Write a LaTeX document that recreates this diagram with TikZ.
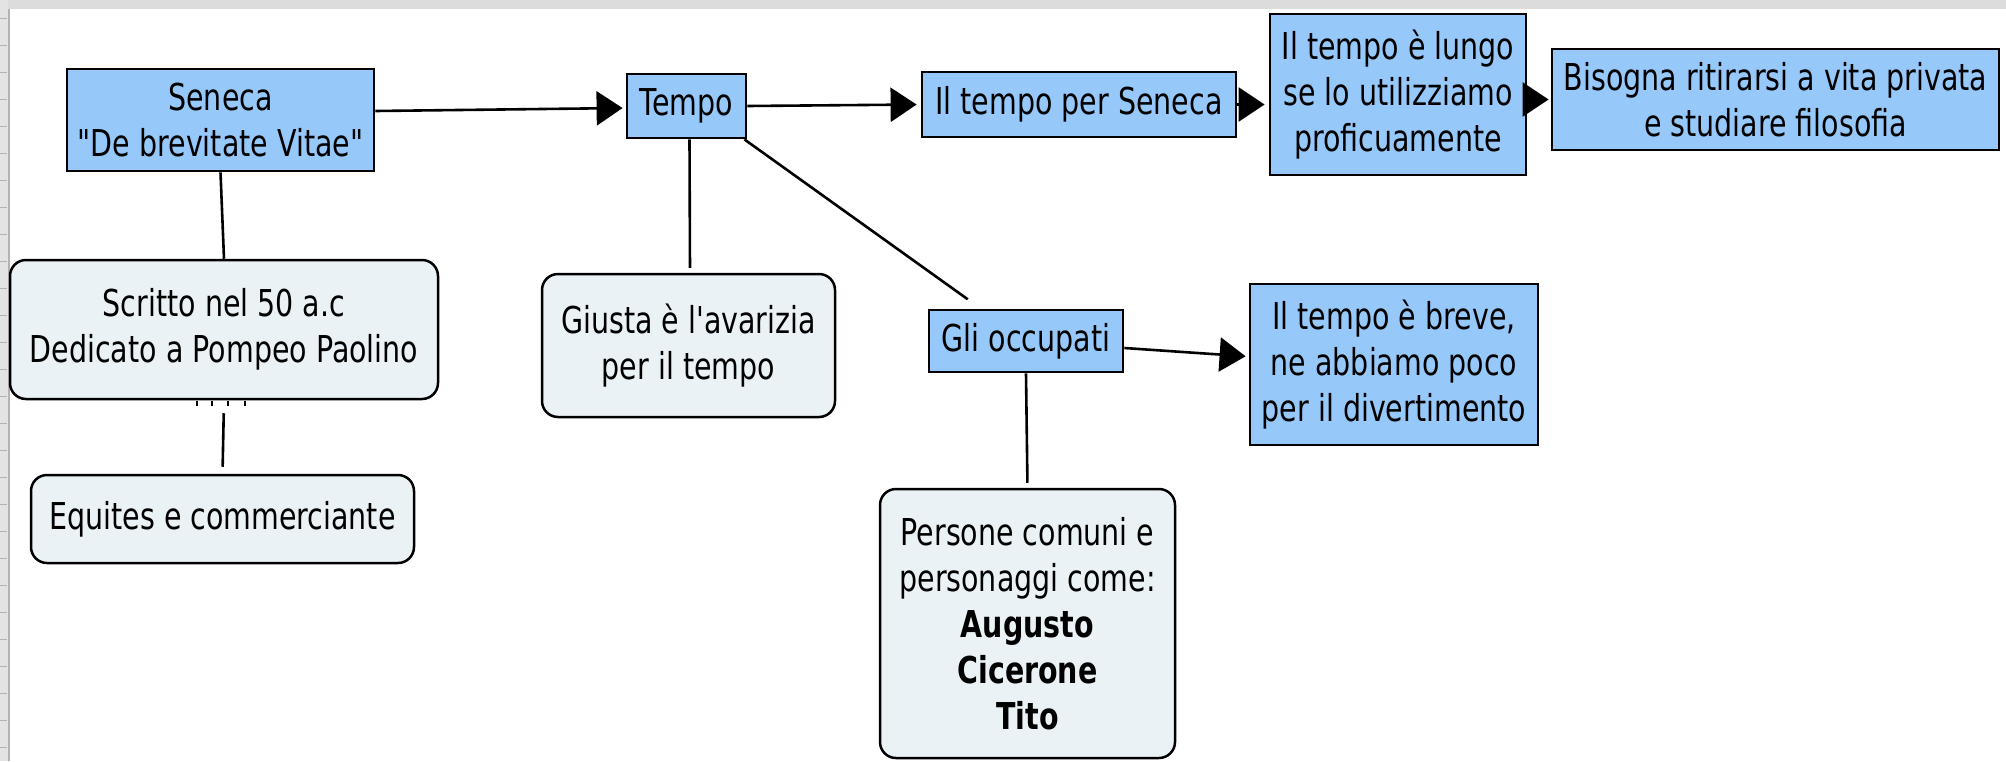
\documentclass[tikz,border=0pt]{standalone}
\usepackage{fontspec}
\setmainfont{DejaVu Sans}[FakeStretch=0.77, Ligatures=TeXOff]
\usetikzlibrary{arrows.meta}
\definecolor{boxblue}{RGB}{150,200,250}
\definecolor{boxgray}{RGB}{235,242,245}
\definecolor{barg}{RGB}{220,220,220}
\begin{document}
\begin{tikzpicture}[x=1pt,y=-1pt,
  every node/.style={font=\fontsize{37}{46}\selectfont, align=center, inner sep=0pt, text=black},
  concept/.style={draw=black, line width=2.8pt, fill=boxblue, rectangle},
  note/.style={draw=black, line width=2.5pt, fill=boxgray, rounded corners=16pt},
  link/.style={line width=2.6pt, draw=black},
  arr/.style={link, -{Triangle[length=26pt,width=34pt]}}]
\useasboundingbox (0,0) rectangle (2006,761);
\fill[white] (0,0) rectangle (2006,761);
\fill[barg] (0,0) rectangle (2006,9);
\fill[barg!80] (0,0) rectangle (8,761);
\draw[gray!60, line width=1.5pt] (9,9) -- (9,761);
\foreach \y in {18,45,...,761} \draw[gray!60,line width=1pt] (0,\y) -- (7,\y);

\node[concept, minimum width=307pt, minimum height=102pt] (seneca) at (220.5,120) {Seneca\\"De brevitate Vitae"};
\node[concept, minimum width=119pt, minimum height=64pt] (tempo) at (686.5,106) {Tempo};
\node[concept, minimum width=314pt, minimum height=65pt] (ptsen) at (1079,104.5) {Il tempo per Seneca};
\node[concept, minimum width=256pt, minimum height=161pt] (lungo) at (1398,94.5) {Il tempo è lungo\\se lo utilizziamo\\proficuamente};
\node[concept, minimum width=447pt, minimum height=101pt] (bisogna) at (1775.5,99.5) {Bisogna ritirarsi a vita privata\\e studiare filosofia};
\node[note, minimum width=428pt, minimum height=139pt] (scritto) at (224,329.5) {Scritto nel 50 a.c\\Dedicato a Pompeo Paolino};
\node[note, minimum width=383pt, minimum height=88pt] (equites) at (222.5,519) {Equites e commerciante};
\node[note, minimum width=293pt, minimum height=143pt] (giusta) at (688.5,345.5) {Giusta è l'avarizia\\per il tempo};
\node[concept, minimum width=194pt, minimum height=62pt] (gli) at (1026,341) {Gli occupati};
\node[concept, minimum width=288pt, minimum height=161pt] (breve) at (1394,364.5) {Il tempo è breve,\\ne abbiamo poco\\per il divertimento};
\node[note, minimum width=295pt, minimum height=269pt] (persone) at (1027.5,623.5) {Persone comuni e\\personaggi come:\\\textbf{Augusto}\\\textbf{Cicerone}\\\textbf{Tito}};

\draw[arr, shorten >=3pt] ([yshift=9pt]seneca.east) -- ([yshift=-2pt]tempo.west);
\draw[arr, shorten >=4pt] (tempo.east) -- (ptsen.west);
\draw[arr, shorten >=4pt] (ptsen.east) -- (ptsen.east -| lungo.west);
\draw[arr, shorten >=2pt] (bisogna.west -| lungo.east) -- (bisogna.west);
\draw[arr, shorten >=3pt] ([yshift=-7pt]gli.east) -- ([yshift=8pt]breve.west);
\draw[link] (seneca.south) -- (scritto.north);
\draw[link, shorten <=13pt, shorten >=7pt] (scritto.south) -- (equites.north);
\draw[link, shorten >=5pt] ([xshift=3pt]tempo.south) -- ([xshift=1.5pt]giusta.north);
\draw[link, shorten >=16pt] ([xshift=-3pt]tempo.south east) -- (gli);
\draw[link, shorten >=5pt] (gli.south) -- (persone.north);
\foreach \dx in {-27,-12,4,21} \draw[line width=2pt] ([xshift=\dx pt, yshift=-1pt]scritto.south) -- ++(0,5);
\end{tikzpicture}
\end{document}
